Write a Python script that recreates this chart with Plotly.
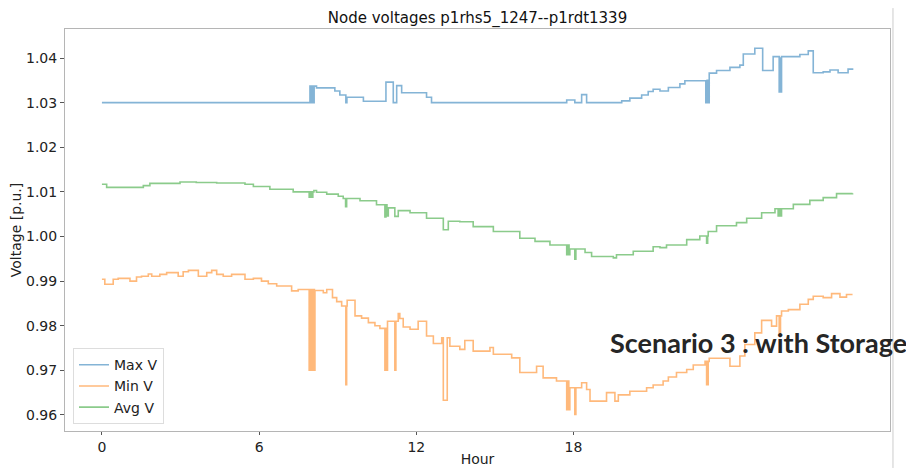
import plotly.graph_objects as go

# step data (value holds from each hour until the next one)
max_hour = [0.0, 7.94, 7.98, 8.02, 8.06, 8.10, 8.19, 8.89, 9.08, 9.31, 9.35, 9.98,
            10.84, 11.12, 11.25, 11.44, 12.39, 12.58, 17.74, 18.05, 18.31, 18.50,
            19.84, 20.15, 20.60, 20.85, 21.04, 21.30, 21.62, 22.06, 22.25,
            23.05, 23.10, 23.13, 23.18, 23.46, 23.97, 24.35, 24.48, 24.92, 25.22,
            25.62, 25.85, 25.88, 25.91, 25.94, 26.64, 26.96, 27.15, 27.53, 27.79,
            28.10, 28.48, 28.65]
max_v = [1.0300, 1.0337, 1.0300, 1.0337, 1.0300, 1.0337, 1.0333, 1.0326, 1.0317, 1.0300, 1.0312, 1.0303,
         1.0346, 1.0300, 1.0338, 1.0322, 1.0312, 1.0300, 1.0306, 1.0300, 1.0318, 1.0300,
         1.0304, 1.0310, 1.0317, 1.0325, 1.0330, 1.0326, 1.0334, 1.0342, 1.0349,
         1.0300, 1.0350, 1.0300, 1.0366, 1.0372, 1.0379, 1.0384, 1.0409, 1.0422, 1.0372,
         1.0403, 1.0324, 1.0400, 1.0324, 1.0403, 1.0408, 1.0416, 1.0367, 1.0369, 1.0373,
         1.0367, 1.0375, 1.0373]

min_hour = [0.0, 0.11, 0.43, 0.62, 1.07, 1.32, 1.51, 1.77, 1.90, 2.21, 2.47, 2.91, 3.10, 3.30,
            3.68, 4.00, 4.19, 4.38, 4.63, 4.95, 5.46, 5.78, 6.09, 6.35, 6.67, 7.24, 7.49,
            7.91, 7.95, 7.98, 8.02, 8.05, 8.09, 8.11, 8.13, 8.45, 8.58, 8.80, 8.96, 9.15,
            9.31, 9.34, 9.36, 9.66, 9.91, 10.17, 10.42, 10.61, 10.80, 10.84, 10.87, 10.90,
            11.18, 11.22, 11.31, 11.37, 11.50, 11.76, 12.07, 12.39, 12.65, 12.97, 13.03,
            13.18, 13.28, 13.66, 13.85, 14.17, 14.81, 14.94, 15.64, 15.95, 16.59, 16.84,
            17.35, 17.74, 17.79, 17.82, 17.86, 18.05, 18.09, 18.31, 18.50, 18.63, 19.26,
            19.58, 19.71, 20.15, 20.79, 21.04, 21.42, 21.62, 21.93, 22.32, 22.57, 23.02,
            23.08, 23.14, 23.18, 23.97, 24.35, 24.54, 24.92, 25.18, 25.56, 25.75, 25.85,
            25.90, 25.94, 26.20, 26.64, 26.96, 27.15, 27.53, 27.85, 28.17, 28.42, 28.65]
min_v = [0.9904, 0.9893, 0.9904, 0.9906, 0.9900, 0.9909, 0.9911, 0.9916, 0.9911, 0.9915, 0.9919, 0.9911, 0.9921, 0.9924,
         0.9911, 0.9919, 0.9924, 0.9915, 0.9911, 0.9915, 0.9904, 0.9906, 0.9900, 0.9894, 0.9889, 0.9878, 0.9881,
         0.9700, 0.9881, 0.9700, 0.9881, 0.9700, 0.9881, 0.9700, 0.9879, 0.9874, 0.9881, 0.9863, 0.9854, 0.9844,
         0.9668, 0.9844, 0.9857, 0.9822, 0.9817, 0.9807, 0.9800, 0.9794, 0.9700, 0.9794, 0.9700, 0.9810,
         0.9700, 0.9810, 0.9827, 0.9816, 0.9797, 0.9792, 0.9810, 0.9777, 0.9760, 0.9773, 0.9633,
         0.9773, 0.9754, 0.9747, 0.9767, 0.9743, 0.9751, 0.9736, 0.9728, 0.9695, 0.9709, 0.9683,
         0.9676, 0.9612, 0.9676, 0.9612, 0.9661, 0.9601, 0.9661, 0.9672, 0.9657, 0.9631, 0.9650,
         0.9631, 0.9645, 0.9653, 0.9661, 0.9667, 0.9676, 0.9685, 0.9695, 0.9702, 0.9712, 0.9720,
         0.9668, 0.9720, 0.9727, 0.9709, 0.9732, 0.9758, 0.9784, 0.9812, 0.9799, 0.9822, 0.9777,
         0.9822, 0.9833, 0.9836, 0.9848, 0.9859, 0.9866, 0.9863, 0.9872, 0.9864, 0.9870, 0.9870]

avg_hour = [0.0, 0.18, 1.58, 1.83, 2.98, 3.60, 4.38, 5.46, 5.78, 6.41, 7.30, 7.91, 7.96, 8.00,
            8.05, 8.09, 8.19, 8.58, 9.02, 9.21, 9.30, 9.34, 9.85, 10.48, 10.80, 10.84, 10.88,
            10.93, 11.18, 11.31, 11.76, 12.39, 13.03, 13.22, 13.66, 14.17, 14.94, 15.95, 16.53,
            17.10, 17.74, 17.80, 17.83, 17.86, 18.05, 18.09, 18.44, 18.69, 19.52, 19.64, 20.28,
            21.04, 21.30, 21.55, 22.32, 22.82, 23.08, 23.12, 23.14, 23.46, 24.22, 24.61, 25.18,
            25.69, 25.81, 25.85, 25.90, 25.94, 26.39, 27.02, 27.53, 28.04, 28.65]
avg_v = [1.0117, 1.0110, 1.0114, 1.0119, 1.0122, 1.0121, 1.0120, 1.0117, 1.0112, 1.0106, 1.0100, 1.0088, 1.0100, 1.0088,
         1.0100, 1.0103, 1.0099, 1.0095, 1.0090, 1.0085, 1.0067, 1.0085, 1.0080, 1.0071, 1.0044, 1.0071, 1.0046,
         1.0064, 1.0045, 1.0058, 1.0053, 1.0041, 1.0015, 1.0034, 1.0033, 1.0022, 1.0011, 0.9996, 0.9989,
         0.9981, 0.9959, 0.9981, 0.9959, 0.9972, 0.9949, 0.9972, 0.9964, 0.9955, 0.9952, 0.9959, 0.9967,
         0.9977, 0.9975, 0.9981, 0.9993, 1.0001, 0.9985, 1.0001, 1.0011, 1.0024, 1.0031, 1.0041, 1.0053,
         1.0062, 1.0046, 1.0062, 1.0046, 1.0062, 1.0072, 1.0081, 1.0087, 1.0096, 1.0097]

x_ticks = [0, 6, 12, 18]
y_ticks = [0.96, 0.97, 0.98, 0.99, 1.00, 1.01, 1.02, 1.03, 1.04]

series = [
    ("Max V", max_hour, max_v, "rgba(31,119,180,0.55)"),
    ("Min V", min_hour, min_v, "rgba(255,127,14,0.55)"),
    ("Avg V", avg_hour, avg_v, "rgba(44,160,44,0.55)"),
]

fig = go.Figure()
for name, xs, ys, col in series:
    fig.add_trace(go.Scatter(
        x=xs, y=ys, mode="lines", name=name,
        line=dict(color=col, width=1.6, shape="hv"),
    ))

# the page body keeps its 8px default margin, so the figure is 8px smaller
font = "DejaVu Sans"
fig.update_layout(
    width=906, height=460,
    margin=dict(l=57, r=24, t=21, b=37),
    paper_bgcolor="white", plot_bgcolor="white",
    font=dict(family=font, size=14, color="#222222"),
    title=dict(text="Node voltages p1rhs5_1247--p1rdt1339", xref="paper", x=0.5, xanchor="center",
               y=0.978, yanchor="middle", font=dict(size=15, color="#111111")),
    showlegend=True,
    legend=dict(x=0.0097, y=0.017, xanchor="left", yanchor="bottom",
                bgcolor="rgba(255,255,255,0.85)", bordercolor="#dddddd", borderwidth=1,
                font=dict(size=14)),
)
fig.update_xaxes(
    range=[-1.41, 30.08], tickvals=x_ticks, ticks="outside", ticklen=3, tickcolor="#555555",
    showgrid=False, zeroline=False, showline=True, mirror=True, linecolor="#b5b5b5",
    automargin=False, title=dict(text="Hour", standoff=0, font=dict(size=14)),
)
fig.update_yaxes(
    range=[0.9564, 1.0465], tickvals=y_ticks, tickformat=".2f", ticks="outside", ticklen=4,
    tickcolor="#555555", showgrid=False, zeroline=False, showline=True, mirror=True,
    linecolor="#b5b5b5", automargin=False,
    title=dict(text="Voltage [p.u.]", standoff=1, font=dict(size=14)),
)

fig.add_annotation(
    text="Scenario 3 : with Storage", xref="paper", yref="paper", x=0.84, y=0.219,
    xanchor="center", yanchor="middle", showarrow=False,
    font=dict(family="Lato", size=27, color="#262626", weight="bold"),
)
# screenshot divider at the right edge
fig.add_shape(type="line", xref="paper", yref="paper", x0=1.0036, x1=1.0036,
              y0=-0.092, y1=1.052, line=dict(color="#cccccc", width=1))

fig.write_html("out.html")
